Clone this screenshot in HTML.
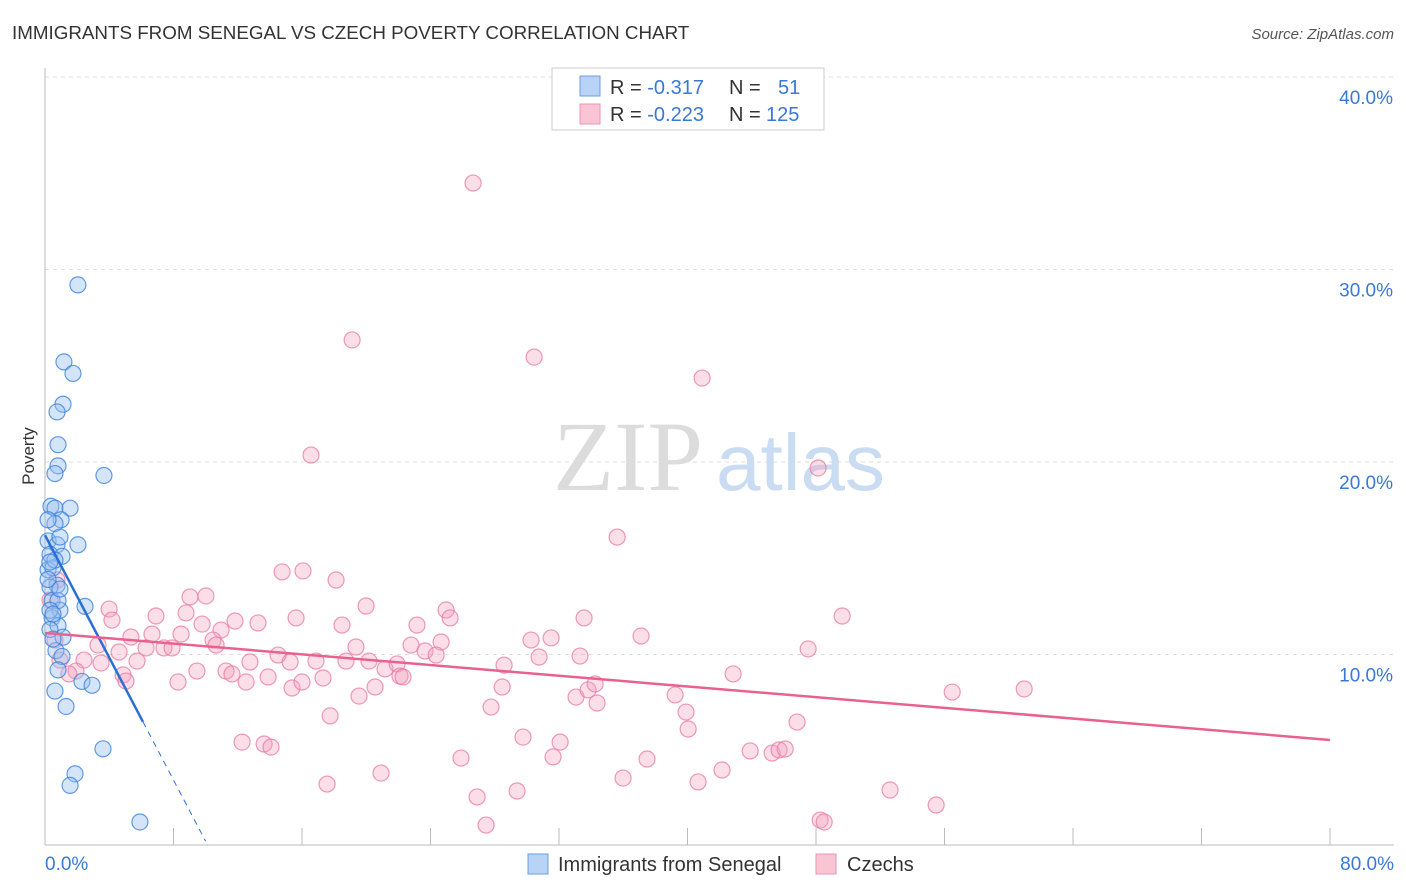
<!DOCTYPE html>
<html><head><meta charset="utf-8"><style>
body{margin:0;background:#fff;font-family:"Liberation Sans",sans-serif;}
svg{display:block}
</style></head><body>
<svg id="chart" width="1406" height="892">
<text x="12" y="39" font-size="18.8" fill="#333">IMMIGRANTS FROM SENEGAL VS CZECH POVERTY CORRELATION CHART</text>
<text x="1394" y="39" font-size="15" fill="#555" font-style="italic" text-anchor="end">Source: ZipAtlas.com</text>
<text x="34" y="456" font-size="17" fill="#333" transform="rotate(-90 34 456)" text-anchor="middle">Poverty</text>
<g id="grid"></g>
<g id="wm">
<text x="553" y="490" font-size="100" font-family="Liberation Serif,serif" fill="#dcdcdc">ZIP</text>
<text x="716" y="490" font-size="80" fill="#c9dcf2">atlas</text>
</g>
<line x1="45" y1="68" x2="45" y2="845" stroke="#bbb"/>
<line x1="45" y1="845" x2="1394" y2="845" stroke="#bbb"/>
<g id="xticks"></g>
<g id="pink"></g>
<g id="blue"></g>
<g id="trends"></g>
<g id="ylabels"></g>
<text x="45" y="870" font-size="19" fill="#3a78d6">0.0%</text>
<text x="1394" y="870" font-size="19" fill="#3a78d6" text-anchor="end">80.0%</text>
<g>
<rect x="552" y="68" width="272" height="62" fill="#fff" stroke="#ccc"/>
<rect x="580" y="76" width="20" height="20" fill="#b8d3f5" stroke="#6d9ee0"/>
<rect x="580" y="104" width="20" height="20" fill="#f9c4d4" stroke="#ee93b0"/>
<text x="610" y="94" font-size="20" fill="#333">R = <tspan fill="#3a78d6">-0.317</tspan><tspan x="729">N = </tspan><tspan x="778" fill="#3a78d6">51</tspan></text>
<text x="610" y="121" font-size="20" fill="#333">R = <tspan fill="#3a78d6">-0.223</tspan><tspan x="729">N = </tspan><tspan x="766" fill="#3a78d6">125</tspan></text>
</g>
<g>
<rect x="528" y="854" width="20" height="20" fill="#b8d3f5" stroke="#6d9ee0"/>
<text x="558" y="871" font-size="20" fill="#333">Immigrants from Senegal</text>
<rect x="816" y="854" width="20" height="20" fill="#f9c4d4" stroke="#ee93b0"/>
<text x="847" y="871" font-size="20" fill="#333">Czechs</text>
</g>
</svg>
<script>
const yTicks=[10,20,30,40];
const yTickLabels=["10.0%","20.0%","30.0%","40.0%"];
const xTickVals=[0,8,16,24,32,40,48,56,64,72,80];
const blueX=[2.05,1.18,1.74,1.12,0.75,0.81,0.81,0.62,3.67,0.37,0.62,1.56,1.0,0.62,2.05,0.19,0.75,0.93,0.31,1.06,0.19,0.5,0.75,0.31,2.49,0.44,0.93,0.44,0.81,1.12,0.31,0.68,1.06,0.81,2.3,2.93,0.62,1.31,3.61,1.87,1.56,5.91,0.19,0.62,0.19,0.81,0.31,0.93,0.5,0.3,0.5];
const blueY=[29.2,25.2,24.6,23.0,22.6,20.9,19.8,19.4,19.3,17.7,17.6,17.6,17.0,16.8,15.7,15.9,15.7,16.1,15.2,15.1,14.4,14.5,13.6,13.5,12.5,12.8,12.3,11.9,11.5,10.9,11.3,10.2,9.9,9.2,8.6,8.4,8.1,7.3,5.1,3.8,3.2,1.3,13.9,14.9,17.0,12.8,12.3,13.4,10.8,14.8,12.1];
const pinkX=[26.65,19.12,30.45,40.91,16.56,48.13,35.62,14.76,16.06,18.12,9.03,10.02,3.99,6.91,8.78,19.99,24.97,23.16,25.22,11.83,13.26,15.63,18.49,33.56,49.63,4.17,5.35,6.66,8.47,9.78,10.96,7.41,7.91,10.46,10.65,14.51,15.26,16.87,18.74,20.17,19.36,22.79,23.66,24.66,24.35,30.26,31.51,37.11,47.51,33.31,30.76,28.58,3.30,4.61,6.29,5.73,3.49,2.43,1.93,1.49,4.86,5.04,8.28,9.46,11.27,11.64,12.52,13.89,12.76,15.38,16.0,17.31,20.55,21.17,21.92,22.10,22.29,19.55,17.75,27.77,28.46,33.06,33.81,34.25,34.37,39.23,39.91,40.04,42.84,46.82,56.48,60.96,12.27,13.64,14.07,25.90,29.76,32.07,31.63,37.48,43.90,42.15,45.27,45.70,46.08,20.92,17.56,35.99,40.66,52.61,55.48,26.90,29.39,27.46,48.26,48.51,0.62,0.93,0.31,0.75];
const pinkY=[34.49,26.34,25.45,24.36,20.36,19.69,16.10,14.29,14.34,13.87,12.99,13.04,12.36,12.0,12.16,12.52,12.31,11.53,11.90,11.74,11.64,11.90,11.53,11.90,12.0,11.79,10.91,11.06,11.06,11.58,11.27,10.34,10.34,10.75,10.49,9.97,9.61,9.66,9.66,9.66,10.39,10.49,10.18,10.65,9.97,10.75,10.86,10.96,10.29,9.92,9.87,9.45,10.49,10.13,10.34,9.66,9.56,9.71,9.14,8.99,8.94,8.62,8.57,9.14,9.14,8.99,8.57,8.83,9.61,8.26,8.57,8.78,8.31,9.25,9.51,8.88,8.83,7.84,6.81,7.27,8.31,7.79,8.16,8.47,7.48,7.90,7.01,6.13,8.99,6.49,8.05,8.21,5.45,5.35,5.19,4.62,5.71,5.45,4.68,4.57,4.99,4.0,4.88,5.04,5.09,3.84,3.27,3.58,3.38,2.96,2.18,2.60,2.91,1.14,1.40,1.30,10.75,9.71,12.83,13.87];
const blueTrend=[16.2,-1.59];
const pinkTrend=[11.12,-0.0695];
const X=v=>45+v*16.0625, Y=v=>847-v*19.25;
const NS="http://www.w3.org/2000/svg";
function mk(tag,attrs,parent){const e=document.createElementNS(NS,tag);for(const k in attrs)e.setAttribute(k,attrs[k]);parent.appendChild(e);return e;}
const grid=document.getElementById('grid'),yl=document.getElementById('ylabels');
yTicks.forEach((t,i)=>{
 const l=mk('line',{x1:45,x2:1394,y1:Y(t),y2:Y(t),stroke:'#ddd','stroke-dasharray':'4,4'},grid);
 
 
 const tx=mk('text',{x:1393,y:Y(t)+27,'font-size':19,fill:'#3a78d6','text-anchor':'end'},yl);
 tx.textContent=yTickLabels[i];
 
 
});
const xt=document.getElementById('xticks');
xTickVals.forEach(v=>{
 const l=mk('line',{x1:X(v),x2:X(v),y1:828,y2:845,stroke:'#bbb'},xt);
 
 
});
const pg=document.getElementById('pink');
pinkX.forEach((x,i)=>{
 const c=mk('circle',{cx:X(x),cy:Y(pinkY[i]),r:8,fill:'rgba(244,160,188,0.35)',stroke:'rgba(232,120,160,0.75)','stroke-width':1.2},pg);
 
 
});
const bg=document.getElementById('blue');
blueX.forEach((x,i)=>{
 const c=mk('circle',{cx:X(x),cy:Y(blueY[i]),r:8,fill:'rgba(150,190,240,0.4)',stroke:'rgba(60,130,220,0.8)','stroke-width':1.2},bg);
 
 
});
const tg=document.getElementById('trends');
const bEnd=6.1, bDash=10.0;
const bl=mk('line',{x1:X(0),y1:Y(blueTrend[0]),x2:X(bEnd),y2:Y(blueTrend[0]+blueTrend[1]*bEnd),stroke:'#2a6fd6','stroke-width':2.5},tg);


const bd=mk('line',{x1:X(bEnd),y1:Y(blueTrend[0]+blueTrend[1]*bEnd),x2:X(bDash),y2:Y(blueTrend[0]+blueTrend[1]*bDash),stroke:'#2a6fd6','stroke-width':1,'stroke-dasharray':'6,5'},tg);


const pl=mk('line',{x1:X(0),y1:Y(pinkTrend[0]),x2:X(80),y2:Y(pinkTrend[0]+pinkTrend[1]*80),stroke:'#e8628f','stroke-width':2.5},tg);


</script>
</body></html>
